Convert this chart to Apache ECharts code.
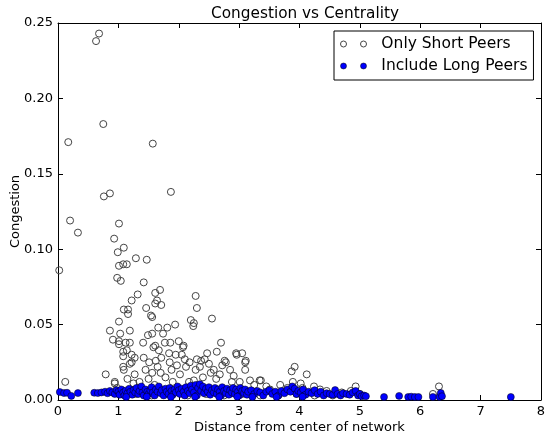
<!DOCTYPE html>
<html>
<head>
<meta charset="utf-8">
<script src="https://cdn.jsdelivr.net/npm/echarts@6/dist/echarts.min.js"></script>
<style>
html,body{margin:0;padding:0;background:#fff;}
#chart{width:545px;height:435px;}
</style>
</head>
<body>
<div id="chart"></div>
<script>
const titleText = "Congestion vs Centrality";
const xName = "Distance from center of network";
const yName = "Congestion";
const seriesNames = ["Only Short Peers", "Include Long Peers"];

const shortX = [0.63,0.68,0.75,0.17,1.57,0.76,0.86,1.87,0.20,0.33,0.02,1.01,0.93,1.09,0.99,1.29,1.47,1.01,1.08,1.14,0.98,1.04,1.42,1.61,1.69,1.32,1.64,1.61,1.71,1.22,2.28,2.30,1.46,1.09,1.16,1.16,1.54,1.56,2.55,2.20,2.25,2.24,1.01,1.94,1.81,1.66,1.49,1.56,1.74,0.86,1.19,1.03,0.91,1.01,1.01,1.12,1.19,1.41,1.61,1.58,1.77,1.86,2.00,2.08,2.70,1.67,1.84,1.95,2.05,1.08,1.14,1.08,1.22,1.27,1.42,1.51,1.62,1.71,1.85,1.97,2.30,2.47,2.43,2.95,3.05,3.11,2.78,1.22,1.19,1.08,1.09,1.27,0.79,0.12,0.94,1.56,2.63,2.07,2.96,3.10,2.37,2.76,2.72,3.10,2.91,3.34,3.68,2.53,2.28,2.12,2.17,2.40,2.68,3.18,3.01,3.36,3.87,3.92,3.89,4.12,4.02,4.24,4.34,4.93,3.51,6.31,6.21,1.70,1.78,1.88,2.02,2.10,2.18,2.35,2.50,2.58,2.62,1.50,1.35,1.60,1.90,2.25,2.85,2.88,3.25,3.45,3.80,4.05,4.45,4.70,4.85,5.00,1.15,1.25,1.45,1.65,0.98,1.05,1.30,1.55,1.85,2.15,2.45,2.75,3.05,3.35,3.65,3.95,4.25,4.55,0.94];
const shortY = [0.238,0.243,0.183,0.171,0.170,0.135,0.137,0.138,0.119,0.111,0.086,0.117,0.107,0.101,0.098,0.094,0.093,0.089,0.090,0.090,0.081,0.079,0.078,0.071,0.073,0.070,0.066,0.064,0.063,0.066,0.069,0.061,0.061,0.060,0.060,0.057,0.056,0.055,0.054,0.053,0.051,0.049,0.052,0.050,0.048,0.048,0.043,0.044,0.044,0.046,0.046,0.044,0.040,0.039,0.037,0.038,0.038,0.038,0.036,0.035,0.038,0.038,0.039,0.036,0.038,0.033,0.031,0.030,0.030,0.032,0.033,0.029,0.030,0.028,0.028,0.025,0.026,0.028,0.025,0.023,0.027,0.031,0.027,0.031,0.031,0.026,0.025,0.025,0.024,0.022,0.020,0.017,0.017,0.012,0.012,0.018,0.032,0.035,0.030,0.025,0.026,0.026,0.023,0.020,0.016,0.013,0.010,0.018,0.020,0.022,0.012,0.015,0.017,0.013,0.012,0.013,0.019,0.022,0.012,0.017,0.011,0.009,0.007,0.009,0.007,0.009,0.004,0.018,0.015,0.020,0.017,0.027,0.025,0.022,0.024,0.020,0.014,0.014,0.012,0.010,0.012,0.013,0.020,0.012,0.010,0.009,0.008,0.008,0.006,0.005,0.006,0.004,0.014,0.011,0.020,0.022,0.008,0.006,0.004,0.003,0.004,0.003,0.004,0.003,0.004,0.003,0.003,0.004,0.003,0.003,0.011];

const longX = [0.03,0.10,0.15,0.22,0.33,0.60,0.66,0.72,0.78,0.82,0.86,0.90,0.94,0.97,1.00,1.02,1.05,1.08,1.10,1.12,1.15,1.18,1.20,1.23,1.25,1.28,1.30,1.33,1.35,1.38,1.40,1.42,1.45,1.48,1.50,1.53,1.55,1.57,1.60,1.62,1.65,1.67,1.70,1.72,1.75,1.78,1.80,1.83,1.85,1.88,1.90,1.93,1.95,1.98,2.00,2.02,2.05,2.08,2.10,2.12,2.15,2.18,2.20,2.22,2.25,2.28,2.30,2.32,2.35,2.37,2.40,2.42,2.45,2.48,2.50,2.52,2.55,2.58,2.60,2.63,2.65,2.68,2.70,2.72,2.75,2.78,2.80,2.83,2.85,2.88,2.90,2.93,2.95,2.98,3.00,3.02,3.05,3.08,3.10,3.13,3.15,3.20,3.25,3.30,3.35,3.40,3.45,3.50,3.55,3.60,3.65,3.70,3.75,3.80,3.85,3.88,3.92,3.95,3.98,4.02,4.06,4.10,4.15,4.20,4.25,4.30,4.35,4.40,4.45,4.50,4.55,4.59,4.63,4.68,4.72,4.78,4.83,4.88,4.93,4.97,5.00,5.03,5.07,5.10,5.40,5.65,5.80,5.85,5.91,5.97,6.21,6.32,6.34,6.36,7.50,1.13,1.47,1.87,2.27,2.67,2.97,3.22,3.62,4.05];
const longY = [0.0053,0.0046,0.0048,0.0027,0.0046,0.0048,0.0046,0.0050,0.0055,0.0045,0.0060,0.0050,0.0040,0.0065,0.0055,0.0035,0.0070,0.0050,0.0030,0.0062,0.0045,0.0075,0.0055,0.0035,0.0065,0.0050,0.0080,0.0040,0.0060,0.0090,0.0050,0.0030,0.0070,0.0055,0.0040,0.0065,0.0085,0.0050,0.0030,0.0070,0.0055,0.0090,0.0045,0.0065,0.0030,0.0075,0.0055,0.0040,0.0080,0.0060,0.0035,0.0070,0.0050,0.0090,0.0065,0.0040,0.0075,0.0055,0.0030,0.0085,0.0060,0.0045,0.0095,0.0070,0.0050,0.0100,0.0030,0.0080,0.0105,0.0060,0.0090,0.0045,0.0075,0.0055,0.0085,0.0035,0.0065,0.0050,0.0080,0.0040,0.0070,0.0055,0.0030,0.0085,0.0060,0.0045,0.0075,0.0035,0.0065,0.0050,0.0080,0.0040,0.0070,0.0055,0.0030,0.0080,0.0060,0.0045,0.0070,0.0035,0.0055,0.0065,0.0040,0.0060,0.0050,0.0030,0.0055,0.0065,0.0040,0.0055,0.0030,0.0060,0.0045,0.0070,0.0055,0.0090,0.0075,0.0040,0.0060,0.0050,0.0070,0.0035,0.0055,0.0045,0.0065,0.0040,0.0055,0.0030,0.0045,0.0040,0.0035,0.0066,0.0040,0.0030,0.0045,0.0040,0.0035,0.0050,0.0060,0.0030,0.0040,0.0025,0.0030,0.0025,0.0020,0.0027,0.0020,0.0022,0.0020,0.0020,0.0020,0.0020,0.0047,0.0025,0.0020,0.0020,0.0022,0.0020,0.0022,0.0020,0.0022,0.0020,0.0020,0.0022];

const xTicks = [0,1,2,3,4,5,6,7,8];
const yTicks = [0,0.05,0.10,0.15,0.20,0.25];

const FONT = 'DejaVu Sans';
const shortData = shortX.map((x, i) => [x, shortY[i]]);
const longData = longX.map((x, i) => [x, longY[i]]);

const twoDots = 'path://M0,3a3,3 0 1,0 6,0a3,3 0 1,0 -6,0Z M20,3a3,3 0 1,0 6,0a3,3 0 1,0 -6,0Z';

const chart = echarts.init(document.getElementById('chart'), null, {renderer: 'canvas'});
const axisCommon = {
  axisLine: {show: true, onZero: false, lineStyle: {color: '#000', width: 1}},
  axisTick: {show: true, inside: true, length: 5, lineStyle: {color: '#000', width: 1}},
  splitLine: {show: false}
};
chart.setOption({
  animation: false,
  backgroundColor: '#fff',
  title: {
    text: titleText, left: 300, top: 2, textAlign: 'center',
    textStyle: {fontFamily: FONT, fontSize: 15.3, fontWeight: 'normal', color: '#000'}
  },
  grid: {left: 58, right: 4, top: 23, bottom: 35, containLabel: false, outerBoundsMode: 'none'},
  legend: {
    orient: 'vertical', left: 334, top: 31,
    padding: [5, 6, 6, 6], itemGap: 6,
    itemWidth: 26, itemHeight: 6,
    backgroundColor: '#fff', borderColor: '#000', borderWidth: 1, borderRadius: 0,
    formatter: n => '  ' + n,
    textStyle: {fontFamily: FONT, fontSize: 15.5, color: '#000'},
    data: [
      {name: seriesNames[0], icon: twoDots, itemStyle: {color: 'rgba(0,0,0,0)', borderColor: '#444', borderWidth: 1, opacity: 1}},
      {name: seriesNames[1], icon: twoDots, itemStyle: {color: '#0000ff', borderColor: '#000', borderWidth: 0.5, opacity: 1}}
    ]
  },
  xAxis: [
    Object.assign({
      type: 'value', min: 0, max: 8, interval: 1, position: 'bottom',
      name: xName, nameLocation: 'middle', nameGap: 21, nameMoveOverlap: false,
      nameTextStyle: {fontFamily: FONT, fontSize: 13, color: '#000'},
      axisLabel: {fontFamily: FONT, fontSize: 13, color: '#000', margin: 5,
        customValues: xTicks, formatter: v => String(v)}
    }, axisCommon),
    Object.assign({
      type: 'value', min: 0, max: 8, interval: 1, position: 'top',
      axisLabel: {show: false}
    }, axisCommon)
  ],
  yAxis: [
    Object.assign({
      type: 'value', min: 0, max: 0.25, interval: 0.05, position: 'left',
      name: yName, nameLocation: 'middle', nameGap: 36, nameMoveOverlap: false,
      nameTextStyle: {fontFamily: FONT, fontSize: 13, color: '#000'},
      axisLabel: {fontFamily: FONT, fontSize: 13, color: '#000', margin: 5,
        formatter: v => v.toFixed(2)}
    }, axisCommon),
    Object.assign({
      type: 'value', min: 0, max: 0.25, interval: 0.05, position: 'right',
      axisLabel: {show: false}
    }, axisCommon)
  ],
  series: [
    {
      name: seriesNames[0], type: 'scatter', xAxisIndex: 0, yAxisIndex: 0,
      symbol: 'circle', symbolSize: 7, data: shortData,
      itemStyle: {color: 'rgba(0,0,0,0)', borderColor: '#444', borderWidth: 1, opacity: 1},
      emphasis: {disabled: true}, z: 2
    },
    {
      name: seriesNames[1], type: 'scatter', xAxisIndex: 0, yAxisIndex: 0,
      symbol: 'circle', symbolSize: 7, data: longData,
      itemStyle: {color: '#0000ff', borderColor: '#000', borderWidth: 0.5, opacity: 1},
      emphasis: {disabled: true}, z: 3
    }
  ]
});
</script>
</body>
</html>
